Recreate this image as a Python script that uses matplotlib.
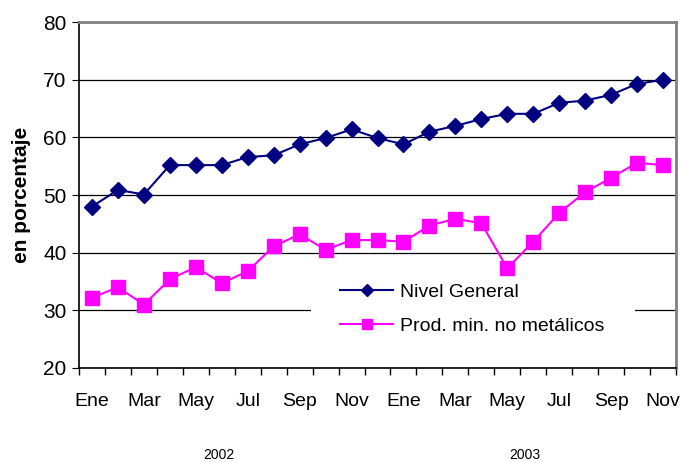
import matplotlib.pyplot as plt
import matplotlib.patches as mpatches
import numpy as np

plt.rcParams['font.family'] = ['Liberation Sans', 'DejaVu Sans']

meses = ['Ene', 'Feb', 'Mar', 'Abr', 'May', 'Jun', 'Jul', 'Ago', 'Sep', 'Oct', 'Nov', 'Dic',
         'Ene', 'Feb', 'Mar', 'Abr', 'May', 'Jun', 'Jul', 'Ago', 'Sep', 'Oct', 'Nov']
anios = ['2002', '2003']

nivel_general = [48.0, 50.9, 50.1, 55.2, 55.2, 55.2, 56.6, 56.9, 58.8, 59.9, 61.4, 59.9,
                 58.8, 61.0, 62.0, 63.2, 64.1, 64.1, 66.0, 66.4, 67.4, 69.3, 70.0]
prod_min = [32.2, 34.0, 31.0, 35.4, 37.5, 34.7, 36.8, 41.1, 43.2, 40.5, 42.2, 42.2,
            41.9, 44.7, 45.9, 45.1, 37.3, 41.9, 46.9, 50.5, 53.0, 55.6, 55.2]

fig = plt.figure(figsize=(6.87, 4.62), dpi=100)
ax = fig.add_axes([0.115, 0.2035, 0.869, 0.7485])

x = np.arange(len(meses))
ax.plot(x, nivel_general, color='#000080', marker='D', markersize=8.5, linewidth=1.5,
        label='Nivel General', zorder=4)
ax.plot(x, prod_min, color='#FF00FF', marker='s', markersize=10.5, linewidth=1.5,
        label='Prod. min. no metálicos', zorder=4)

ax.set_xlim(-0.5, len(meses) - 0.5)
ax.set_ylim(20, 80)
ax.set_yticks(range(20, 81, 10))
ax.yaxis.grid(True, color='black', linewidth=0.9)
ax.set_axisbelow(True)

ax.set_xticks(x[::2])
ax.set_xticklabels(meses[::2])
ax.set_xticks(np.arange(-0.5, len(meses), 1), minor=True)
ax.tick_params(axis='x', which='major', length=0, pad=18, labelsize=14)
ax.tick_params(axis='x', which='minor', length=5, direction='out', width=1)
ax.tick_params(axis='y', length=5, direction='out', labelsize=15, pad=4)

for s in ['top', 'right']:
    ax.spines[s].set_color('#808080')
    ax.spines[s].set_linewidth(2)
ax.spines['left'].set_linewidth(1.2)
ax.spines['bottom'].set_linewidth(1.2)

ax.set_ylabel('en porcentaje', fontsize=15, fontweight='bold', labelpad=9)

fig.text(219 / 687, 1 - 455 / 462, anios[0], fontsize=10, ha='center', va='center')
fig.text(525 / 687, 1 - 455 / 462, anios[1], fontsize=10, ha='center', va='center')

# white area behind the legend (hides part of the 30 gridline)
fondo = mpatches.Rectangle((311 / 687, 1 - 350 / 462), 324 / 687, 85 / 462,
                           transform=fig.transFigure, facecolor='white',
                           edgecolor='none', zorder=2)
ax.add_patch(fondo)

leg = ax.legend(loc='upper left', bbox_to_anchor=(340 / 687, 1 - 283 / 462),
                bbox_transform=fig.transFigure, frameon=False, fontsize=14,
                handlelength=2.75, handletextpad=0.36, borderpad=0,
                borderaxespad=0, labelspacing=0.85, markerscale=0.75)
leg.set_zorder(3)

fig.savefig('out.png', dpi=100)
